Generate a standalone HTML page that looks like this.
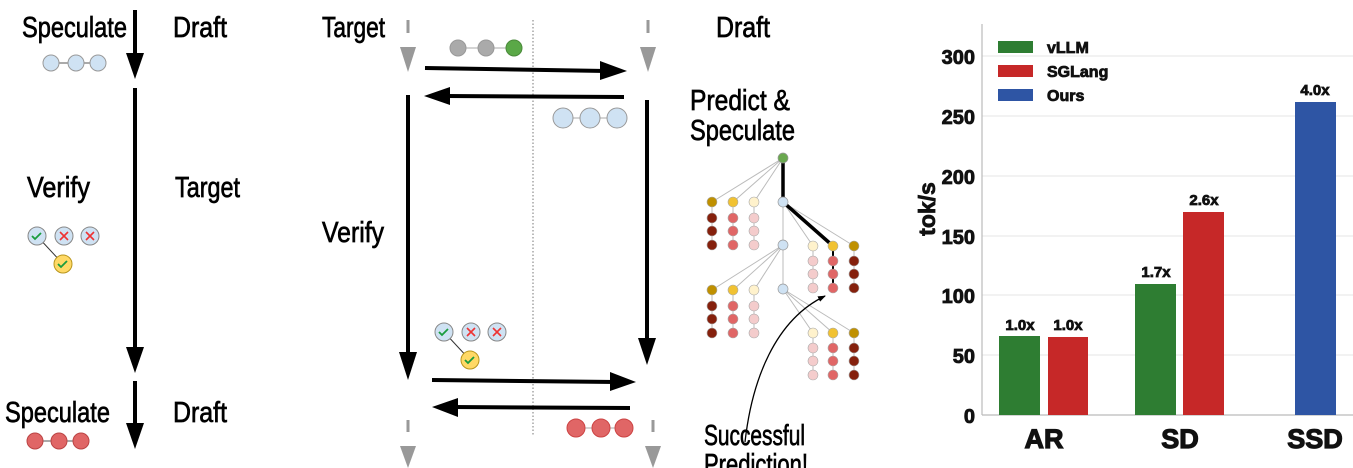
<!DOCTYPE html>
<html><head><meta charset="utf-8"><style>
html,body{margin:0;padding:0;background:#fff;}
svg{display:block;}
.c{font-family:"Liberation Sans Narrow","Liberation Sans",sans-serif;font-size:29px;fill:#000;stroke:#000;stroke-width:0.7px;}
.b{font-family:"Liberation Sans",sans-serif;font-weight:bold;fill:#111;stroke:#111;stroke-width:0.8px;}
</style></head><body>
<svg width="1353" height="468" viewBox="0 0 1353 468" xmlns="http://www.w3.org/2000/svg">
<defs>
<marker id="sm" markerWidth="8" markerHeight="6" refX="7" refY="3" orient="auto" markerUnits="userSpaceOnUse"><path d="M0,0 L8,3 L0,6 z" fill="#000"/></marker>
</defs>
<!-- LEFT COLUMN -->
<text class="c" x="22" y="37" textLength="105" lengthAdjust="spacingAndGlyphs">Speculate</text>
<text class="c" x="173" y="37" textLength="54" lengthAdjust="spacingAndGlyphs">Draft</text>
<text class="c" x="27" y="197" textLength="63" lengthAdjust="spacingAndGlyphs">Verify</text>
<text class="c" x="175" y="197" textLength="65" lengthAdjust="spacingAndGlyphs">Target</text>
<text class="c" x="5" y="422" textLength="105" lengthAdjust="spacingAndGlyphs">Speculate</text>
<text class="c" x="173" y="422" textLength="54" lengthAdjust="spacingAndGlyphs">Draft</text>
<g stroke="#000" stroke-width="4">
<line x1="135" y1="10" x2="135" y2="56"/><line x1="135" y1="88" x2="135" y2="350"/><line x1="135" y1="381" x2="135" y2="426"/>
</g>
<g fill="#000"><path d="M126,53 L144,53 L135,79z"/><path d="M126,347 L144,347 L135,373z"/><path d="M126,423 L144,423 L135,449z"/></g>
<g stroke="#555" stroke-width="1"><line x1="51" y1="63" x2="98" y2="63"/><line x1="35" y1="441" x2="81" y2="441"/></g>
<g fill="#cfe2f3" stroke="#999"><circle cx="51" cy="63" r="8"/><circle cx="76" cy="63" r="8"/><circle cx="98" cy="63" r="8"/></g>
<g fill="#e06666" stroke="#b44"><circle cx="35" cy="441" r="8"/><circle cx="59" cy="441" r="8"/><circle cx="81" cy="441" r="8"/></g>
<g id="vf">
<line x1="37" y1="236" x2="63" y2="264" stroke="#333" stroke-width="1"/>
<circle cx="37" cy="236" r="9" fill="#cfe2f3" stroke="#888"/><circle cx="64" cy="236" r="9" fill="#cfe2f3" stroke="#888"/><circle cx="90" cy="236" r="9" fill="#cfe2f3" stroke="#888"/>
<circle cx="63" cy="264" r="9" fill="#ffd966" stroke="#b8961e"/>
<path d="M32,236 l3,3 l6,-6 M58,264 l3,3 l6,-6" stroke="#1a9c3e" stroke-width="1.8" fill="none"/>
<path d="M60,232 l8,8 M68,232 l-8,8 M86,232 l8,8 M94,232 l-8,8" stroke="#e33" stroke-width="1.6"/>
</g>
<!-- MIDDLE -->
<text class="c" x="322" y="37" textLength="63" lengthAdjust="spacingAndGlyphs">Target</text>
<text class="c" x="716" y="37" textLength="54" lengthAdjust="spacingAndGlyphs">Draft</text>
<text class="c" x="322" y="242" textLength="62" lengthAdjust="spacingAndGlyphs">Verify</text>
<text class="c" x="690" y="110" textLength="100" lengthAdjust="spacingAndGlyphs">Predict &amp;</text>
<text class="c" x="690" y="140" textLength="105" lengthAdjust="spacingAndGlyphs">Speculate</text>
<text class="c" x="704" y="445" textLength="101" lengthAdjust="spacingAndGlyphs">Successful</text>
<text class="c" x="704" y="474" textLength="104" lengthAdjust="spacingAndGlyphs">Prediction!</text>
<line x1="533" y1="20" x2="533" y2="435" stroke="#777" stroke-width="1" stroke-dasharray="1.5,2"/>
<g fill="#999" stroke="#999" stroke-width="3">
<line x1="408" y1="20" x2="408" y2="33"/><path d="M400,47 L416,47 L408,72z" stroke="none"/>
<line x1="648" y1="20" x2="648" y2="33"/><path d="M640,47 L656,47 L648,72z" stroke="none"/>
<line x1="408" y1="420" x2="408" y2="432"/><path d="M400,446 L416,446 L408,468z" stroke="none"/>
<line x1="653" y1="420" x2="653" y2="432"/><path d="M645,446 L661,446 L653,468z" stroke="none"/>
</g>
<g stroke="#000" stroke-width="4">
<line x1="425" y1="68" x2="606" y2="71"/><line x1="624" y1="97" x2="445" y2="96"/>
<line x1="408" y1="95" x2="408" y2="355"/><line x1="647" y1="100" x2="647" y2="340"/>
<line x1="432" y1="380" x2="616" y2="382"/><line x1="630" y1="408" x2="452" y2="407"/>
</g>
<g fill="#000">
<path d="M600,61 L627,71 L600,80z"/><path d="M450,87 L424,96 L450,105z"/>
<path d="M399,352 L417,352 L408,380z"/><path d="M638,338 L656,338 L647,365z"/>
<path d="M610,372 L636,382 L610,391z"/><path d="M458,398 L432,407 L458,417z"/>
</g>
<g stroke="#aaa" stroke-width="1"><line x1="458" y1="48" x2="514" y2="48"/><line x1="563" y1="118" x2="617" y2="118"/><line x1="576" y1="428" x2="624" y2="428"/></g>
<g fill="#aaa" stroke="#999"><circle cx="458" cy="48" r="8"/><circle cx="486" cy="48" r="8"/></g>
<circle cx="514" cy="48" r="8" fill="#5aa847" stroke="#4a8a3a"/>
<g fill="#cfe2f3" stroke="#999"><circle cx="563" cy="118" r="10"/><circle cx="590" cy="118" r="10"/><circle cx="617" cy="118" r="10"/></g>
<g fill="#e06666" stroke="#c44"><circle cx="576" cy="428" r="9"/><circle cx="601" cy="428" r="9"/><circle cx="624" cy="428" r="9"/></g>
<use href="#vf" transform="translate(407,96)"/>
<!-- TREE -->
<g stroke="#bbb" stroke-width="1" fill="none">
<path d="M783,158 L712,202 M783,158 L733,202 M783,158 L754,202"/>
<path d="M783,202 L813,246 M783,202 L854,246 M783,202 L783,289"/>
<path d="M783,245 L712,290 M783,245 L733,290 M783,245 L754,290"/>
<path d="M783,289 L813,333 M783,289 L833,333 M783,289 L854,333"/>
<path d="M712,202V245 M733,202V245 M754,202V245 M712,290V333 M733,290V333 M754,290V333 M813,246V288 M854,246V288 M813,333V376 M833,333V376 M854,333V376"/>
</g>
<g stroke="#000" stroke-width="3.5"><path d="M783,158 L783,202 L833,246" fill="none"/></g>
<line x1="833" y1="246" x2="833" y2="288" stroke="#000" stroke-width="2"/>
<g stroke="#999" stroke-width="0.7">
<circle cx="783" cy="158" r="5" fill="#6aa84f"/>
<circle cx="783" cy="202" r="5" fill="#cfe2f3"/><circle cx="783" cy="245" r="5" fill="#cfe2f3"/><circle cx="783" cy="289" r="5" fill="#cfe2f3"/>
</g>
<g id="grp" stroke="#aaa" stroke-width="0.6">
<circle cx="712" cy="202" r="5" fill="#bf9000"/><circle cx="733" cy="202" r="5" fill="#f1c232"/><circle cx="754" cy="202" r="5" fill="#fff2cc"/>
<circle cx="712" cy="218" r="5" fill="#85200c"/><circle cx="733" cy="218" r="5" fill="#e06666"/><circle cx="754" cy="218" r="5" fill="#f4cccc"/>
<circle cx="712" cy="231" r="5" fill="#85200c"/><circle cx="733" cy="231" r="5" fill="#e06666"/><circle cx="754" cy="231" r="5" fill="#f4cccc"/>
<circle cx="712" cy="245" r="5" fill="#85200c"/><circle cx="733" cy="245" r="5" fill="#e06666"/><circle cx="754" cy="245" r="5" fill="#f4cccc"/>
</g>
<use href="#grp" transform="translate(0,88)"/>
<g stroke="#aaa" stroke-width="0.6" id="rg">
<circle cx="813" cy="246" r="5" fill="#fff2cc"/><circle cx="833" cy="246" r="5" fill="#f1c232"/><circle cx="854" cy="246" r="5" fill="#bf9000"/>
<circle cx="813" cy="261" r="5" fill="#f4cccc"/><circle cx="833" cy="261" r="5" fill="#e06666"/><circle cx="854" cy="261" r="5" fill="#85200c"/>
<circle cx="813" cy="274" r="5" fill="#f4cccc"/><circle cx="833" cy="274" r="5" fill="#e06666"/><circle cx="854" cy="274" r="5" fill="#85200c"/>
<circle cx="813" cy="288" r="5" fill="#f4cccc"/><circle cx="833" cy="288" r="5" fill="#e06666"/><circle cx="854" cy="288" r="5" fill="#85200c"/>
</g>
<use href="#rg" transform="translate(0,87)"/>
<path d="M745,442 C752,380 775,320 825,296" stroke="#000" stroke-width="1.3" fill="none" marker-end="url(#sm)"/>
<!-- CHART -->
<g stroke="#e6e6e6" stroke-width="1">
<line x1="982" y1="355" x2="1353" y2="355"/><line x1="982" y1="295" x2="1353" y2="295"/><line x1="982" y1="236" x2="1353" y2="236"/>
<line x1="982" y1="176" x2="1353" y2="176"/><line x1="982" y1="116" x2="1353" y2="116"/><line x1="982" y1="56" x2="1353" y2="56"/>
</g>
<line x1="982" y1="24" x2="982" y2="415" stroke="#bbb" stroke-width="1.2"/>
<line x1="982" y1="415" x2="1353" y2="415" stroke="#bbb" stroke-width="1.2"/>
<g class="b" font-size="20" text-anchor="end">
<text x="975" y="423">0</text><text x="975" y="363">50</text><text x="975" y="303">100</text><text x="975" y="244">150</text>
<text x="975" y="184">200</text><text x="975" y="124">250</text><text x="975" y="64">300</text>
</g>
<text class="b" font-size="23" transform="translate(935,209) rotate(-90)" text-anchor="middle">tok/s</text>
<rect x="999" y="336" width="41" height="79" fill="#2e7d32"/>
<rect x="1048" y="337" width="40" height="78" fill="#c62828"/>
<rect x="1135" y="284" width="41" height="131" fill="#2e7d32"/>
<rect x="1183" y="212" width="41" height="203" fill="#c62828"/>
<rect x="1295" y="102" width="41" height="313" fill="#2e55a4"/>
<g class="b" font-size="15" text-anchor="middle">
<text x="1020" y="330">1.0x</text><text x="1068" y="330">1.0x</text><text x="1156" y="277">1.7x</text><text x="1204" y="205">2.6x</text><text x="1315" y="95">4.0x</text>
</g>
<g class="b" font-size="27" text-anchor="middle" style="stroke-width:1.2px"><text x="1044" y="448">AR</text><text x="1180" y="448">SD</text><text x="1315" y="448">SSD</text></g>
<rect x="998" y="41" width="35" height="12" fill="#2e7d32"/><rect x="998" y="65" width="35" height="12" fill="#c62828"/><rect x="998" y="89" width="35" height="12" fill="#2e55a4"/>
<g class="b" font-size="16"><text x="1047" y="53">vLLM</text><text x="1047" y="77">SGLang</text><text x="1047" y="101">Ours</text></g>
</svg>
</body></html>
